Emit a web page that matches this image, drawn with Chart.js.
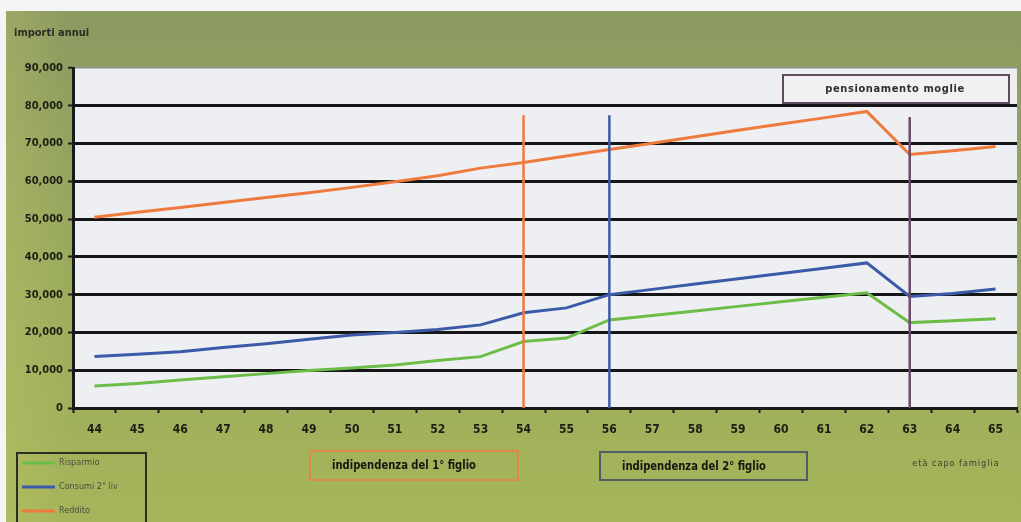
<!DOCTYPE html>
<html>
<head>
<meta charset="utf-8">
<script src="https://cdn.jsdelivr.net/npm/chart.js@4.4.1/dist/chart.umd.min.js"></script>
<style>
  html, body { margin: 0; padding: 0; background: #f4f4f6; }
  #wrap { width: 1021px; height: 522px; position: relative; }
</style>
</head>
<body>
<div id="wrap"><canvas id="myChart" width="1021" height="522"></canvas></div>
<script>
// età del capo famiglia (asse x)
var anni = ['44','45','46','47','48','49','50','51','52','53','54','55','56','57','58','59','60','61','62','63','64','65'];
// importi annui per serie
var risparmio = [5800, 6500, 7400, 8300, 9100, 9900, 10600, 11400, 12600, 13600, 17600, 18500, 23300, 24500, 25700, 26900, 28100, 29300, 30500, 22600, 23100, 23600];
var consumi = [13600, 14200, 14900, 16000, 17000, 18200, 19300, 20000, 20800, 22000, 25200, 26500, 30000, 31400, 32800, 34200, 35600, 37000, 38400, 29500, 30300, 31500];
var reddito = [50500, 51800, 53100, 54400, 55700, 57000, 58400, 59900, 61500, 63500, 65000, 66700, 68400, 70100, 71800, 73500, 75200, 76800, 78500, 67100, 68100, 69200];
// eventi: linee verticali
var eventiAnni = ['54', '56', '63'];
var eventiAltezza = [77500, 77500, 77000];
var etichetteY = [0, 10000, 20000, 30000, 40000, 50000, 60000, 70000, 80000, 90000];

var narrow = "'Liberation Sans Narrow', 'DejaVu Sans Condensed', sans-serif";
var coloriEventi = ['#ef7a3e', '#3c5ca8', '#6b4a6a'];

// creo i dataset delle linee verticali
function lineaEvento(i) {
    return {
        label: 'evento' + i,
        data: [{x: eventiAnni[i], y: 0}, {x: eventiAnni[i], y: eventiAltezza[i]}],
        borderColor: coloriEventi[i],
        borderWidth: 2.5,
        pointRadius: 0,
        order: 0
    };
}

// sfondo verde e area bianca
var sfondo = {
    id: 'sfondo',
    beforeDraw: function(chart) {
        var c = chart.ctx, a = chart.chartArea;
        c.save();
        c.fillStyle = '#f4f4f6';
        c.fillRect(0, 0, chart.width, chart.height);
        var g = c.createLinearGradient(0, 11, 0, 522);
        g.addColorStop(0, '#8b9a61');
        g.addColorStop(0.5, '#9aab5d');
        g.addColorStop(1, '#a5b55a');
        c.fillStyle = g;
        c.fillRect(6, 11, chart.width - 6, chart.height - 11);
        var g2 = c.createLinearGradient(6, 0, 70, 0);
        g2.addColorStop(0, 'rgba(200,200,110,0.3)');
        g2.addColorStop(1, 'rgba(200,200,110,0)');
        c.fillStyle = g2;
        c.fillRect(6, 11, 64, 511);
        c.fillStyle = '#eeeff2';
        c.fillRect(a.left, a.top, a.right - a.left, a.bottom - a.top);
        c.restore();
    },
    afterDraw: function(chart) {
        var c = chart.ctx;
        c.save();
        // titolo asse y
        c.fillStyle = '#2a2d22';
        c.font = 'bold 11px ' + narrow;
        c.textBaseline = 'middle';
        c.fillText('importi annui', 14, 33);
        // età capo famiglia
        c.fillStyle = '#3a3d30';
        c.font = '9px ' + narrow;
        c.textAlign = 'center';
        c.letterSpacing = '1px';
        c.fillText('età capo famiglia', 956, 464, 104);
        c.letterSpacing = '0px';

        // box eventi
        function box(x0, y0, w, h, bordo, fill) {
            if (fill) { c.fillStyle = fill; c.fillRect(x0, y0, w, h); }
            c.strokeStyle = bordo;
            c.lineWidth = 2;
            c.strokeRect(x0, y0, w, h);
        }
        box(310, 451, 208, 29, '#e0874a', null);
        box(600, 452, 207, 28, '#4f5e66', null);
        c.fillStyle = '#15170f';
        c.font = 'bold 12px ' + narrow;
        c.textAlign = 'left';
        c.fillText('indipendenza del 1° figlio', 332, 466, 144);
        c.fillText('indipendenza del 2° figlio', 622, 467, 144);

        // pensionamento moglie
        box(783, 75, 226, 28, '#5c4c5c', '#f1f0f3');
        c.fillStyle = '#2e2e2e';
        c.font = 'bold 11px ' + narrow;
        c.textAlign = 'center';
        c.letterSpacing = '0.6px';
        c.fillText('pensionamento moglie', 895, 89);
        c.letterSpacing = '0px';

        // legenda
        box(17, 453, 129, 75, '#2b2e22', null);
        var voci = [['Risparmio', '#6cbd48'], ['Consumi 2° liv', '#3b5aa8'], ['Reddito', '#ef7a3e']];
        c.font = '9px ' + narrow;
        c.textAlign = 'left';
        for (var i = 0; i < voci.length; i++) {
            var yy = 463 + i * 24;
            c.strokeStyle = voci[i][1];
            c.lineWidth = 3;
            c.beginPath();
            c.moveTo(22, yy);
            c.lineTo(55, yy);
            c.stroke();
            c.fillStyle = '#4b4f3e';
            c.fillText(voci[i][0], 59, yy);
        }
        c.restore();
    }
};

var ctx = document.getElementById('myChart').getContext('2d');
var myLineChart = new Chart(ctx, {
    type: 'line',
    data: {
        labels: anni,
        datasets: [
            {label: 'Risparmio', data: risparmio, borderColor: '#6cbd48', borderWidth: 3, pointRadius: 0, order: 3},
            {label: 'Consumi 2° liv', data: consumi, borderColor: '#3b5aa8', borderWidth: 3, pointRadius: 0, order: 2},
            {label: 'Reddito', data: reddito, borderColor: '#ef7a3e', borderWidth: 3, pointRadius: 0, order: 1},
            lineaEvento(0), lineaEvento(1), lineaEvento(2)
        ]
    },
    options: {
        responsive: false,
        animation: false,
        layout: {padding: {left: 0, top: 68, right: 4, bottom: 0}},
        plugins: {legend: {display: false}, tooltip: {enabled: false}},
        scales: {
            x: {
                type: 'category',
                offset: true,
                afterFit: function(s) { s.height = 114; },
                grid: {offset: true, drawOnChartArea: false, tickLength: 5, tickColor: '#1a1a1a', tickWidth: 2},
                border: {color: '#1a1a1a', width: 3},
                ticks: {
                    autoSkip: false, maxRotation: 0, padding: 10,
                    color: '#1c1e16',
                    font: {family: narrow, size: 12, weight: 'bold'}
                }
            },
            y: {
                min: 0, max: 90000,
                afterFit: function(s) { s.width = 73; },
                afterBuildTicks: function(s) { s.ticks = etichetteY.map(function(v) { return {value: v}; }); },
                grid: {
                    color: function(c) { return c.tick && c.tick.value === 90000 ? '#8e8e92' : '#161616'; },
                    lineWidth: function(c) { return c.tick && c.tick.value === 90000 ? 1.5 : 3; },
                    tickLength: 5, tickColor: '#1a1a1a', tickWidth: 2
                },
                border: {color: '#1a1a1a', width: 3},
                ticks: {
                    padding: 5,
                    color: '#1c1e16',
                    font: {family: narrow, size: 11, weight: 'bold'},
                    callback: function(v) { return v.toLocaleString('en-US'); }
                }
            }
        }
    },
    plugins: [sfondo]
});
</script>
</body>
</html>
